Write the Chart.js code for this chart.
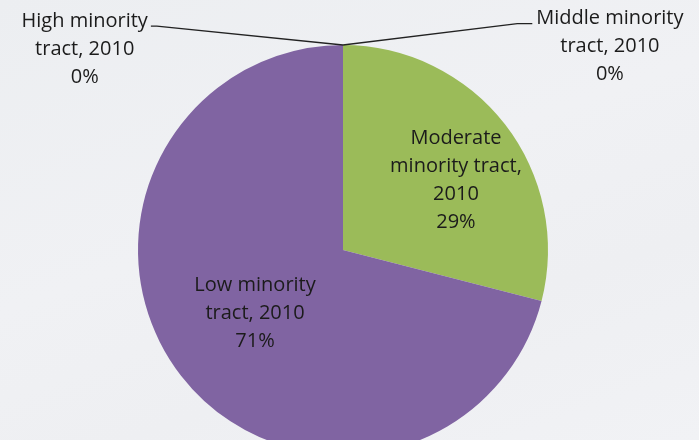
<!DOCTYPE html>
<html>
<head>
<meta charset="utf-8">
<script src="https://cdn.jsdelivr.net/npm/chart.js@4.4.1/dist/chart.umd.min.js"></script>
<style>
  html, body { margin: 0; padding: 0; overflow: hidden; }
  body {
    width: 699px; height: 440px;
    background: linear-gradient(160deg, #eceef1 0%, #f0f1f4 45%, #eeeff2 70%, #f1f2f5 100%);
  }
  #wrap { position: relative; width: 699px; height: 500px; }
</style>
</head>
<body>
<div id="wrap"><canvas id="chart" width="699" height="500"></canvas></div>
<script>
// slices run clockwise from 12 o'clock
var categories = ['Middle minority tract, 2010', 'Moderate minority tract, 2010', 'Low minority tract, 2010', 'High minority tract, 2010'];
var shares = [0, 29, 71, 0];
var percentLabels = ['0%', '29%', '71%', '0%'];
var colours = ['#4BACC6', '#9BBB59', '#8064A2', '#C0504D'];

// how each label is broken into lines
var labelLines = [
  ['Middle minority', 'tract, 2010'],
  ['Moderate', 'minority tract,', '2010'],
  ['Low minority', 'tract, 2010'],
  ['High minority', 'tract, 2010']
];
// label centre, in units of the radius from the pie centre
var labelAnchors = [[1.302, -0.992], [0.551, -0.34], [-0.429, 0.31], [-1.26, -0.98]];
// leader line for labels sitting outside the pie: side and length of the flat bit
var leaders = [{side: 'left', flat: 15}, null, null, {side: 'right', flat: 6}];

var FONT = '20px "Open Sans", Lato, sans-serif';
var LINE_H = 28;

var labelPlugin = {
  id: 'sliceLabels',
  afterDatasetsDraw: function(chart){
    var ctx = chart.ctx;
    var arcs = chart.getDatasetMeta(0).data;
    ctx.save();
    ctx.font = FONT;
    ctx.fillStyle = '#1b1b1b';
    ctx.textAlign = 'center';
    ctx.textBaseline = 'middle';
    arcs.forEach(function(arc, i){
      var r = arc.outerRadius;
      var lines = labelLines[i].concat([percentLabels[i]]);
      var cx = arc.x + labelAnchors[i][0] * r;
      var cy = arc.y + labelAnchors[i][1] * r;
      var top = cy - (lines.length - 1) * LINE_H / 2;
      lines.forEach(function(line, j){
        ctx.fillText(line, cx, top + j * LINE_H);
      });

      var lead = leaders[i];
      if (!lead) return;
      // point on the rim where the slice sits
      var mid = (arc.startAngle + arc.endAngle) / 2;
      var px = arc.x + Math.cos(mid) * r;
      var py = arc.y + Math.sin(mid) * r;
      var w = ctx.measureText(lines[0]).width;
      var ly = top + 5;
      var ex = lead.side === 'right' ? cx + w / 2 + 3 : cx - w / 2 - 4;
      var kx = lead.side === 'right' ? ex + lead.flat : ex - lead.flat;
      ctx.beginPath();
      ctx.strokeStyle = '#222';
      ctx.lineWidth = 1.3;
      ctx.moveTo(ex, ly);
      ctx.lineTo(kx, ly);
      ctx.lineTo(px, py);
      ctx.stroke();
    });
    ctx.restore();
  }
};

new Chart(document.getElementById('chart'), {
  type: 'pie',
  data: {
    labels: categories,
    datasets: [{
      data: shares,
      backgroundColor: colours,
      borderWidth: 0
    }]
  },
  options: {
    responsive: false,
    animation: false,
    rotation: 0,
    layout: { padding: {top: 45, bottom: 45, left: 138, right: 151} },
    plugins: {
      legend: { display: false },
      tooltip: { enabled: false }
    }
  },
  plugins: [labelPlugin]
});
</script>
</body>
</html>
